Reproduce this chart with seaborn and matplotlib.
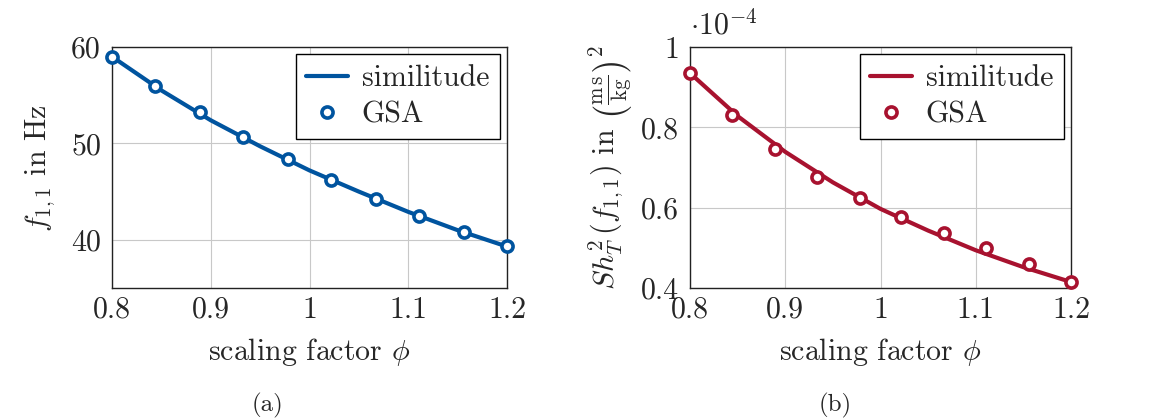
import numpy as np
import pandas as pd
import matplotlib
matplotlib.use("Agg")
import matplotlib.pyplot as plt
import seaborn as sns

# ================================
# DATA
# ================================

phi_gsa = [0.8, 0.844, 0.889, 0.933, 0.978, 1.022, 1.067, 1.111, 1.156, 1.2]
freq_gsa = [59.0, 56.0, 53.25, 50.7, 48.35, 46.2, 44.2, 42.45, 40.8, 39.35]
sens_gsa = [0.935, 0.830, 0.746, 0.677, 0.623, 0.576, 0.536, 0.499, 0.460, 0.415]

phi_sim = [0.8, 0.85, 0.9, 0.95, 1.0, 1.05, 1.1, 1.15, 1.2]
freq_sim = [59.0, 55.5, 52.4, 49.7, 47.2, 45.0, 42.9, 41.0, 39.3]
sens_sim = [0.935, 0.828, 0.739, 0.663, 0.597, 0.543, 0.494, 0.452, 0.415]

x_ticks = [0.8, 0.9, 1.0, 1.1, 1.2]
x_tick_labels = ["0.8", "0.9", "1", "1.1", "1.2"]
yticks_a = [40, 50, 60]
yticks_b = [0.4, 0.6, 0.8, 1.0]
ytick_labels_b = ["0.4", "0.6", "0.8", "1"]

blue = "#00549F"
red = "#A8122F"

# ================================
# STYLE
# ================================

sns.set_theme(style="whitegrid")
plt.rcParams["font.family"] = ["cmr10", "DejaVu Serif"]
plt.rcParams["mathtext.fontset"] = "cm"
plt.rcParams["axes.formatter.use_mathtext"] = True
plt.rcParams["axes.unicode_minus"] = False

fs = 21.5

fig = plt.figure(figsize=(11.51, 4.19), dpi=100)
ax_a = fig.add_axes([0.0973, 0.3126, 0.3432, 0.5752])
ax_b = fig.add_axes([0.5995, 0.3126, 0.3310, 0.5752])

sim_a = pd.DataFrame({"phi": phi_sim, "val": freq_sim})
gsa_a = pd.DataFrame({"phi": phi_gsa, "val": freq_gsa})
sim_b = pd.DataFrame({"phi": phi_sim, "val": sens_sim})
gsa_b = pd.DataFrame({"phi": phi_gsa, "val": sens_gsa})


def draw(ax, sim, gsa, color):
    sns.lineplot(data=sim, x="phi", y="val", ax=ax, color=color, lw=3.0,
                 label="similitude", zorder=3)
    ax.plot(gsa["phi"], gsa["val"], linestyle="none", marker="o",
            markersize=8, markerfacecolor="white", markeredgecolor=color,
            markeredgewidth=2.6, label="GSA", zorder=4, clip_on=False)
    ax.set_xlim(0.8, 1.2)
    ax.set_xticks(x_ticks)
    ax.set_xticklabels(x_tick_labels)
    ax.set_xlabel(r"scaling factor $\phi$", fontsize=fs, labelpad=9)
    ax.grid(True, color="#c8c8c8", lw=0.8)
    for s in ax.spines.values():
        s.set_visible(True)
        s.set_color("#222222")
        s.set_linewidth(1.0)
    ax.tick_params(axis="x", labelsize=fs, length=0, pad=6)
    ax.tick_params(axis="y", labelsize=fs, length=0, pad=8)
    leg = ax.legend(loc="upper right", fontsize=fs, frameon=True,
                    fancybox=False, edgecolor="black", framealpha=1,
                    borderaxespad=0.25, handlelength=1.4, handletextpad=0.45,
                    borderpad=0.35, labelspacing=0.3)
    leg.get_frame().set_linewidth(1.0)
    ax.set_facecolor("white")


draw(ax_a, sim_a, gsa_a, blue)
ax_a.set_ylim(35, 60)
ax_a.set_yticks(yticks_a)
ax_a.set_yticklabels([str(v) for v in yticks_a])
ax_a.set_ylabel(r"$f_{1,1}$ in Hz", fontsize=fs, labelpad=10)

draw(ax_b, sim_b, gsa_b, red)
ax_b.set_ylim(0.4, 1.0)
ax_b.set_yticks(yticks_b)
ax_b.set_yticklabels(ytick_labels_b)
ax_b.set_ylabel(r"$Sh_T^2\,(f_{1,1})$ in $\left(\frac{\mathrm{m\,s}}{\mathrm{kg}}\right)^2$",
                fontsize=fs, labelpad=4)
ax_b.text(0.0, 1.03, r"$\cdot 10^{-4}$", transform=ax_b.transAxes,
          fontsize=fs, ha="left", va="bottom")

fig.text(0.232, 0.033, "(a)", fontsize=18, ha="center", va="center")
fig.text(0.726, 0.033, "(b)", fontsize=18, ha="center", va="center")

fig.savefig("out.png", dpi=100, facecolor="white")
